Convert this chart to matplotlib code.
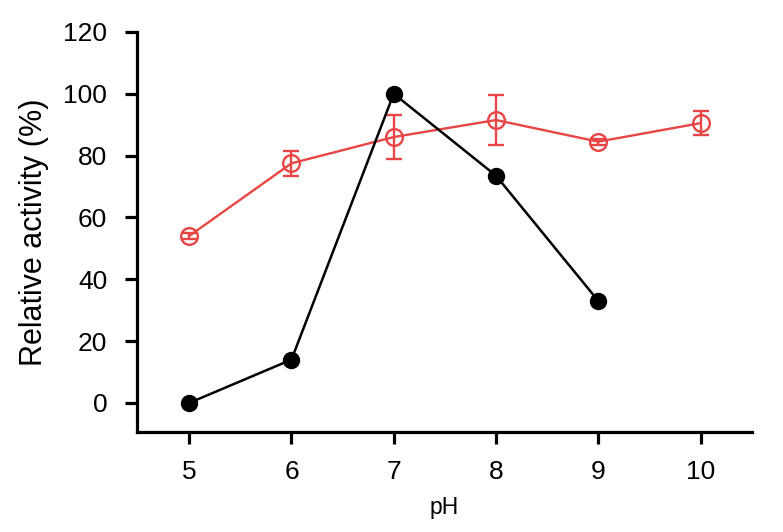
import matplotlib
matplotlib.use("Agg")
import matplotlib.pyplot as plt

plt.rcParams["font.family"] = ["Liberation Sans", "DejaVu Sans"]

ph_black = [5, 6, 7, 8, 9]
activity_black = [0, 14, 100, 73.5, 33]

ph_red = [5, 6, 7, 8, 9, 10]
activity_red = [54, 77.5, 86, 91.5, 84.5, 90.5]
err_red = [1, 4, 7, 8, 1, 3.8]

red = "#e84545"

fig = plt.figure(figsize=(7.83, 5.32), dpi=100)
ax = fig.add_axes([0.175, 0.188, 0.785, 0.752])

ax.errorbar(ph_red, activity_red, yerr=err_red, color=red, lw=1.7,
            marker="o", ms=12, mfc="none", mec=red, mew=1.7,
            capsize=5.5, capthick=1.7, elinewidth=1.7, zorder=2)
ax.plot(ph_black, activity_black, color="black", lw=1.8, marker="o",
        ms=11.5, mfc="black", mec="black", zorder=3)

ax.set_xlim(4.49, 10.5)
ax.set_ylim(-9.4, 120)
ax.set_xticks([5, 6, 7, 8, 9, 10])
ax.set_yticks(range(0, 121, 20))

for side in ["top", "right"]:
    ax.spines[side].set_visible(False)
for side in ["left", "bottom"]:
    ax.spines[side].set_linewidth(2.3)
ax.tick_params(direction="out", length=8.5, width=2.3, labelsize=19)
ax.tick_params(axis="y", pad=13)
ax.tick_params(axis="x", pad=12)

ax.set_xlabel("pH", fontsize=16.5, labelpad=8)
ax.set_ylabel("Relative activity (%)", fontsize=22, labelpad=10)

fig.savefig("out.png", dpi=100)
